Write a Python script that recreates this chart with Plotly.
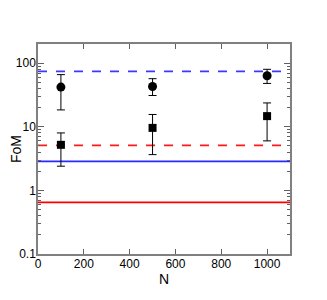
import plotly.graph_objects as go

N = [100, 500, 1000]
circ_y = [42, 43, 63.5]
circ_hi = [66, 57, 80]
circ_lo = [18.4, 31, 48]
sq_y = [5.2, 9.6, 14.7]
sq_hi = [8.0, 15.6, 23.7]
sq_lo = [2.4, 3.65, 6.0]

x_span = [0, 1100]
blue_dash = 74
red_dash = 5.1
blue_solid = 2.85
red_solid = 0.65

fig = go.Figure()
for val, col, dash in [(blue_dash, "#3a3aff", "dash"), (red_dash, "#ff1a1a", "dash"),
                       (blue_solid, "#2a2aff", "solid"), (red_solid, "#ff0000", "solid")]:
    fig.add_trace(go.Scatter(x=x_span, y=[val, val], mode="lines",
                             line=dict(color=col, width=1.8, dash=dash), showlegend=False))

def err(y, hi, lo):
    return dict(type="data", symmetric=False,
                array=[h - v for h, v in zip(hi, y)],
                arrayminus=[v - l for v, l in zip(y, lo)],
                color="black", thickness=1, width=4)

fig.add_trace(go.Scatter(x=N, y=circ_y, mode="markers",
                         marker=dict(symbol="circle", size=9, color="black"),
                         error_y=err(circ_y, circ_hi, circ_lo), showlegend=False))
fig.add_trace(go.Scatter(x=N, y=sq_y, mode="markers",
                         marker=dict(symbol="square", size=8, color="black"),
                         error_y=err(sq_y, sq_hi, sq_lo), showlegend=False))

axis_common = dict(showline=True, linecolor="#808080", linewidth=1.5, mirror="allticks",
                   ticks="inside", tickcolor="#606060", showgrid=False, zeroline=False,
                   automargin=False,
                   tickfont=dict(family="Liberation Sans, Arial", size=12, color="black"))

fig.update_layout(
    width=319, height=292,
    margin=dict(l=30, r=37, t=36, b=46),
    paper_bgcolor="white", plot_bgcolor="white",
    font=dict(family="Liberation Sans, Arial", size=12, color="black"),
    xaxis=dict(range=[0, 1100], tickvals=[0, 200, 400, 600, 800, 1000], ticklen=5,
               ticklabelstandoff=-2,
               title=dict(text="N", standoff=0), **axis_common),
    yaxis=dict(type="log", range=[-1, 2.301], tickvals=[0.1, 1, 10, 100],
               ticktext=["0.1", "1", "10", "100"], ticklen=6, ticklabelstandoff=-2,
               minor=dict(ticks="inside", ticklen=3, tickcolor="#606060",
                          tickvals=[0.2, 0.3, 0.4, 0.5, 0.6, 0.7, 0.8, 0.9,
                                    2, 3, 4, 5, 6, 7, 8, 9,
                                    20, 30, 40, 50, 60, 70, 80, 90, 200]),
               title=dict(text="FoM", standoff=0), **axis_common),
)
fig.write_html("out.html")
